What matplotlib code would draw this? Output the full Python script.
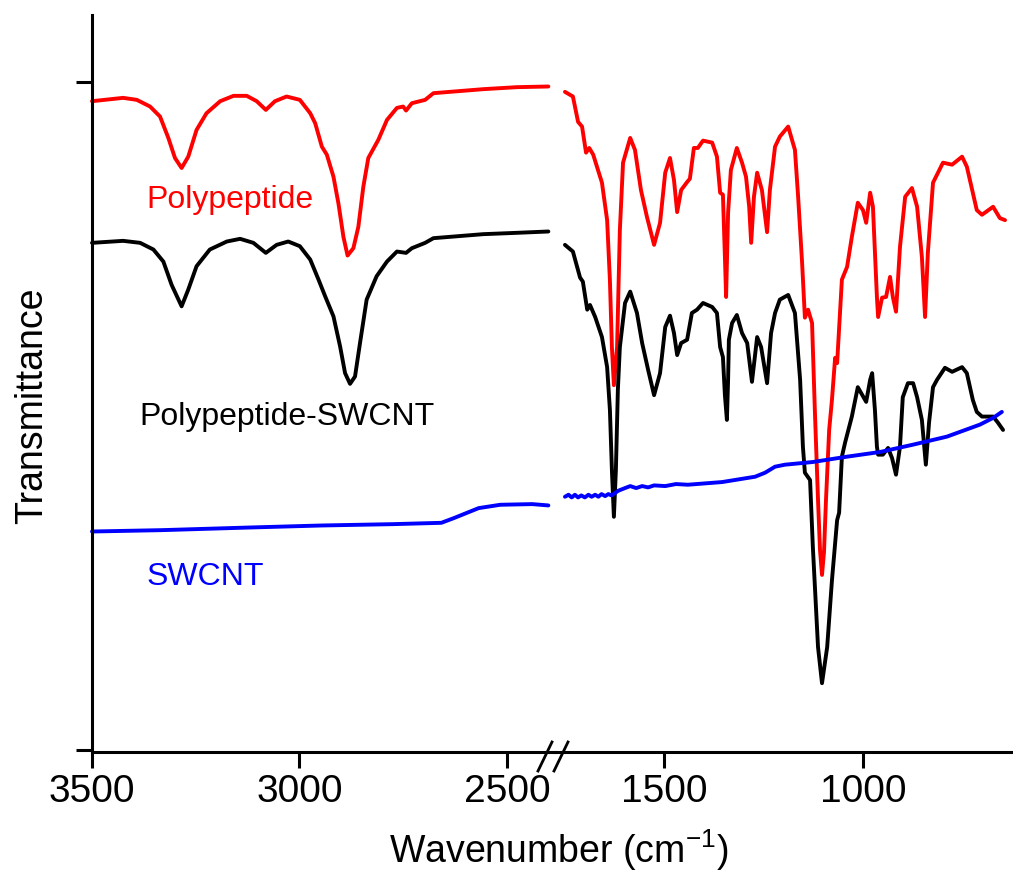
#!/usr/bin/python3

import matplotlib
matplotlib.use('Agg')
import matplotlib.pyplot as plt
from matplotlib.lines import Line2D

plt.rcParams['font.family'] = ['Liberation Sans', 'DejaVu Sans']
plt.rcParams['mathtext.fontset'] = 'custom'
plt.rcParams['mathtext.rm'] = 'Liberation Sans'
plt.rcParams['mathtext.it'] = 'Liberation Sans:italic'

# --- high wavenumber part (3500 - 2400 cm-1) ---
hi_wn_red = [3500, 3425, 3392, 3360, 3336, 3316, 3300, 3284, 3268, 3248,
             3224, 3191, 3159, 3127, 3103, 3081, 3059, 3031, 2999, 2974,
             2962, 2946, 2934, 2918, 2906, 2894, 2884, 2870, 2858, 2846,
             2834, 2810, 2789, 2765, 2750, 2743, 2729, 2697, 2677, 2637,
             2557, 2476, 2400]
hi_red = [97.1, 97.6, 97.3, 96.3, 94.8, 91.6, 88.6, 87.1, 88.8, 92.8,
          95.3, 97.1, 97.9, 97.9, 97.1, 95.8, 97.1, 97.8, 97.3, 95.3,
          93.8, 90.3, 89.1, 85.8, 81.8, 76.8, 74.0, 75.1, 78.3, 84.3,
          88.6, 91.3, 94.3, 96.1, 96.3, 95.7, 96.8, 97.3, 98.3, 98.5,
          98.9, 99.2, 99.3]

hi_wn_black = [3500, 3425, 3384, 3352, 3328, 3308, 3284, 3268, 3248, 3216,
               3175, 3143, 3111, 3081, 3055, 3027, 2999, 2974, 2954, 2938,
               2918, 2902, 2890, 2878, 2866, 2854, 2838, 2814, 2789, 2765,
               2743, 2729, 2697, 2677, 2637, 2557, 2476, 2400]
hi_black = [75.9, 76.2, 75.9, 74.9, 73.1, 69.6, 66.4, 68.9, 72.4, 74.9,
            76.1, 76.5, 75.9, 74.4, 75.6, 76.1, 75.4, 73.4, 70.4, 67.9,
            64.9, 60.4, 56.4, 54.8, 55.9, 60.9, 67.4, 70.9, 73.1, 74.6,
            74.4, 75.1, 75.9, 76.6, 76.8, 77.2, 77.4, 77.6]

hi_wn_blue = [3500, 3334, 3119, 2947, 2775, 2658, 2628, 2568, 2516, 2439, 2400]
hi_blue = [32.7, 32.9, 33.3, 33.6, 33.8, 34.0, 34.7, 36.2, 36.7, 36.8, 36.6]

# --- fingerprint part (1750 - 640 cm-1) ---
lo_wn_red = [1749, 1729, 1716, 1706, 1696, 1688, 1678, 1656, 1643, 1636,
             1631, 1626, 1618, 1611, 1603, 1585, 1573, 1558, 1543, 1525,
             1510, 1497, 1485, 1475, 1467, 1457, 1442, 1435, 1425, 1415,
             1402, 1379, 1367, 1359, 1352, 1347, 1344, 1339, 1332, 1317,
             1304, 1294, 1286, 1281, 1274, 1266, 1254, 1241, 1234, 1221,
             1209, 1188, 1171, 1163, 1153, 1146, 1138, 1128, 1121, 1113,
             1108, 1103, 1098, 1093, 1085, 1078, 1070, 1065, 1053, 1040,
             1028, 1013, 1000, 992, 982, 975, 965, 962, 952, 942,
             932, 925, 917, 907, 894, 877, 864, 852, 844, 837,
             824, 799, 776, 751, 739, 714, 701, 673, 656, 643]
lo_red = [98.5, 97.8, 94.0, 93.3, 89.4, 90.1, 89.1, 84.9, 79.3, 70.3,
          60.3, 54.6, 60.3, 77.8, 87.9, 91.6, 89.8, 83.8, 79.8, 75.6,
          78.9, 86.4, 88.6, 85.3, 80.5, 83.8, 85.0, 85.5, 90.1, 90.1,
          91.2, 90.9, 88.8, 83.4, 83.1, 73.8, 67.8, 80.4, 86.8, 90.1,
          87.9, 85.8, 81.3, 75.9, 82.8, 86.4, 83.8, 77.5, 83.8, 90.3,
          91.8, 93.3, 89.8, 82.8, 72.9, 64.7, 65.9, 63.9, 50.9, 37.4,
          29.9, 26.2, 29.6, 37.4, 47.9, 52.4, 58.7, 57.9, 70.4, 72.3,
          76.8, 81.9, 80.8, 78.9, 83.4, 81.3, 67.8, 64.8, 67.7, 67.8,
          70.8, 67.8, 65.6, 75.3, 82.8, 84.1, 81.3, 73.8, 64.8, 74.4,
          84.9, 87.9, 87.6, 88.8, 87.3, 80.8, 80.1, 81.3, 79.6, 79.3]

lo_wn_black = [1749, 1729, 1711, 1704, 1693, 1686, 1673, 1656, 1643, 1636,
               1631, 1626, 1621, 1616, 1611, 1598, 1585, 1568, 1555, 1540,
               1525, 1510, 1497, 1485, 1475, 1467, 1457, 1442, 1430, 1417,
               1402, 1379, 1367, 1359, 1352, 1347, 1342, 1339, 1337, 1329,
               1317, 1304, 1291, 1279, 1266, 1256, 1241, 1231, 1221, 1209,
               1188, 1171, 1158, 1151, 1146, 1133, 1126, 1113, 1103, 1090,
               1078, 1065, 1060, 1053, 1045, 1028, 1013, 992, 982, 977,
               970, 965, 962, 950, 937, 927, 917, 907, 900, 887,
               874, 864, 852, 842, 834, 824, 814, 794, 776, 751,
               739, 724, 714, 701, 673, 661, 648]
lo_black = [75.6, 74.6, 70.7, 70.1, 65.9, 66.6, 64.8, 61.8, 57.3, 50.9,
            41.9, 34.9, 41.9, 53.9, 60.3, 66.9, 68.6, 65.4, 60.9, 56.9,
            53.1, 56.4, 63.3, 65.0, 62.4, 59.1, 60.9, 61.4, 65.4, 65.9,
            66.9, 66.3, 65.4, 60.3, 58.8, 53.1, 49.4, 55.4, 61.4, 63.9,
            65.1, 62.4, 60.9, 55.1, 61.8, 60.3, 54.9, 62.4, 65.4, 67.4,
            68.1, 65.4, 55.4, 45.4, 41.5, 40.4, 30.4, 15.4, 10.0, 15.4,
            25.4, 34.4, 35.5, 43.9, 46.0, 49.9, 54.3, 52.1, 55.4, 56.4,
            50.9, 45.4, 44.2, 44.2, 45.2, 43.7, 41.2, 45.4, 52.8, 54.9,
            54.9, 52.8, 49.4, 42.7, 49.0, 54.3, 55.4, 57.2, 56.6, 57.3,
            56.4, 52.4, 50.6, 49.9, 49.9, 49.0, 47.9]

lo_wn_blue = [1749, 1740, 1732, 1724, 1716, 1708, 1699, 1690, 1682, 1673,
              1665, 1657, 1648, 1640, 1632, 1615, 1598, 1585, 1570, 1555,
              1540, 1525, 1497, 1470, 1440, 1354, 1271, 1246, 1221, 1196,
              1126, 1040, 957, 874, 789, 706, 673, 651]
lo_blue = [37.9, 38.2, 37.8, 38.2, 37.8, 38.1, 37.8, 38.2, 37.9, 38.2,
           37.9, 38.3, 38.0, 38.3, 38.1, 38.8, 39.2, 39.5, 39.2, 39.5,
           39.3, 39.6, 39.5, 39.8, 39.7, 40.1, 40.9, 41.5, 42.4, 42.7,
           43.1, 43.9, 44.6, 45.7, 46.9, 48.7, 49.7, 50.6]

RED = '#ff0000'
BLUE = '#0000ff'
LW = 2.8
W, H = 1013, 876


# Helper: pixel box (from top-left) to figure fraction rect
def px_rect(x0, x1, y_top, y_bottom):
    return [x0 / W, 1 - y_bottom / H, (x1 - x0) / W, (y_bottom - y_top) / H]


# Common axis styling
def style_axis(ax, show_left):
    ax.spines['top'].set_visible(False)
    ax.spines['right'].set_visible(False)
    ax.spines['bottom'].set_linewidth(2.2)
    ax.spines['left'].set_linewidth(2.2)
    ax.spines['left'].set_visible(show_left)
    ax.tick_params(axis='x', direction='out', length=11.5, width=2.2,
                   labelsize=28, pad=4)
    ax.tick_params(axis='y', direction='out', length=11.5, width=2.2,
                   labelleft=False)
    ax.set_ylim(-0.3, 110)
    ax.set_facecolor('none')
    if show_left:
        ax.set_yticks([0, 100])
    else:
        ax.set_yticks([])


def main():
    fig = plt.figure(figsize=(W / 100, H / 100), dpi=100)

    ax1 = fig.add_axes(px_rect(92, 555, 15, 752))
    ax2 = fig.add_axes(px_rect(555, 1013, 15, 752))

    # high wavenumber side
    ax1.plot(hi_wn_red, hi_red, color=RED, lw=LW)
    ax1.plot(hi_wn_black, hi_black, color='black', lw=LW)
    ax1.plot(hi_wn_blue, hi_blue, color=BLUE, lw=LW)
    ax1.set_xlim(3500, 2384)
    ax1.set_xticks([3500, 3000, 2500])
    style_axis(ax1, True)

    # fingerprint side
    ax2.plot(lo_wn_red, lo_red, color=RED, lw=LW)
    ax2.plot(lo_wn_black, lo_black, color='black', lw=LW)
    ax2.plot(lo_wn_blue, lo_blue, color=BLUE, lw=LW)
    ax2.set_xlim(1774, 623)
    ax2.set_xticks([1500, 1000])
    style_axis(ax2, False)

    for a in (ax1, ax2):
        for ln in a.lines:
            ln.set_solid_joinstyle('round')
            ln.set_solid_capstyle('round')
            ln.set_clip_on(False)

    # curve labels
    ax1.text(3368, 81.1, 'Polypeptide', color=RED, fontsize=23,
             ha='left', va='baseline')
    ax1.text(3385, 48.7, 'Polypeptide-SWCNT', color='black', fontsize=23,
             ha='left', va='baseline')
    ax1.text(3368, 24.7, 'SWCNT', color=BLUE, fontsize=23,
             ha='left', va='baseline')

    # axis break marks "//"
    for x0 in (538, 554):
        fig.add_artist(Line2D([x0 / W, (x0 + 14) / W],
                              [1 - 771 / H, 1 - 742 / H],
                              transform=fig.transFigure, color='black', lw=2.0))

    fig.text(559 / W, 1 - 863 / H, r'Wavenumber (cm$^{\mathrm{-1}}$)',
             fontsize=27, ha='center', va='baseline')
    fig.text(32 / W, 1 - 406 / H, 'Transmittance', fontsize=27,
             rotation=90, ha='center', va='center')

    fig.savefig('out.png', dpi=100, facecolor='white')
    plt.close(fig)


if __name__ == "__main__":
    main()
